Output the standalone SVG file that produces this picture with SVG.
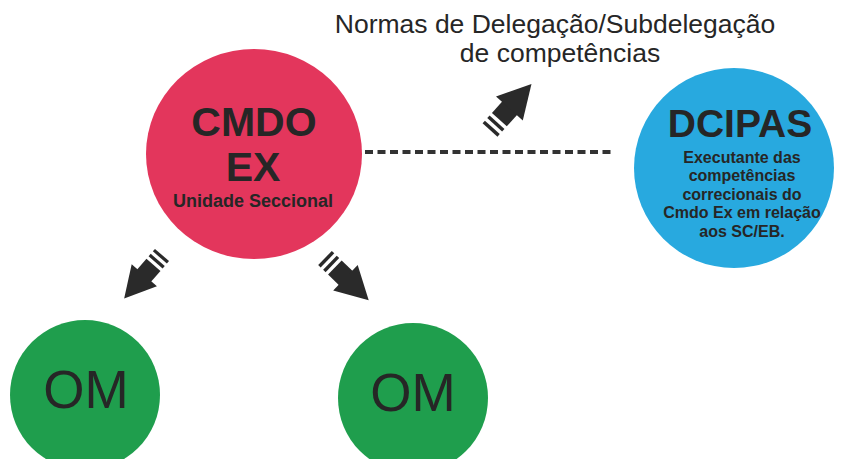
<svg xmlns="http://www.w3.org/2000/svg" width="843" height="459" viewBox="0 0 843 459">
<defs>
<style>
.t{font-family:"Liberation Sans",Arial,sans-serif;fill:#262626;text-anchor:middle}
.b{font-weight:bold}
.arrow{fill:#2a2a2a}
</style>
<g id="blockArrow">
<rect x="0" y="-10" width="3.5" height="20" class="arrow"/>
<rect x="7" y="-10" width="3.5" height="20" class="arrow"/>
<rect x="14" y="-10" width="17" height="20" class="arrow"/>
<polygon points="29,-18 62,0 29,18" class="arrow"/>
</g>
</defs>
<rect width="843" height="459" fill="#ffffff"/>
<g id="title">
<text class="t" x="555" y="33" font-size="26.5">Normas de Delegação/Subdelegação</text>
<text class="t" x="560" y="62" font-size="26.5">de competências</text>
</g>
<g id="connectors">
<line x1="365" y1="152" x2="613" y2="152" stroke="#333" stroke-width="4" stroke-dasharray="8,4.5"/>
<use href="#blockArrow" transform="translate(490,130) rotate(-48)"/>
<use href="#blockArrow" transform="translate(162,255) rotate(131) scale(0.93)"/>
<use href="#blockArrow" transform="translate(325,258) rotate(44) scale(0.98)"/>
</g>
<g id="cmdo">
<ellipse cx="254" cy="154" rx="108" ry="105" fill="#e3365c"/>
<text class="t b" x="254" y="136" font-size="41">CMDO</text>
<text class="t b" x="253" y="181" font-size="41">EX</text>
<text class="t b" x="253" y="207" font-size="18">Unidade Seccional</text>
</g>
<g id="dcipas">
<circle cx="734" cy="168" r="100" fill="#28a9df"/>
<text class="t b" x="740" y="137" font-size="39">DCIPAS</text>
<text class="t b" x="742" y="163" font-size="16">Executante das</text>
<text class="t b" x="742" y="181" font-size="16">competências</text>
<text class="t b" x="742" y="200" font-size="16">correcionais do</text>
<text class="t b" x="742" y="218" font-size="16">Cmdo Ex em relação</text>
<text class="t b" x="742" y="237" font-size="16">aos SC/EB.</text>
</g>
<g id="om1">
<circle cx="85" cy="395" r="75" fill="#1f9e4d"/>
<text class="t" x="86" y="408" font-size="53">OM</text>
</g>
<g id="om2">
<circle cx="413" cy="398" r="75" fill="#1f9e4d"/>
<text class="t" x="413" y="411" font-size="53">OM</text>
</g>
</svg>
